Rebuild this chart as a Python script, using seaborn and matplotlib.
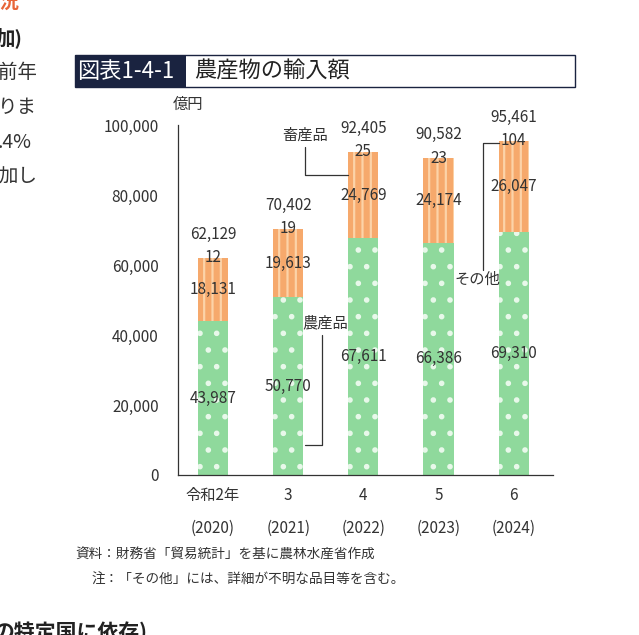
import matplotlib
matplotlib.use("Agg")
import matplotlib.pyplot as plt
import seaborn as sns
import pandas as pd
import numpy as np

sns.set_style("white")
plt.rcParams['font.family'] = ['Noto Sans CJK JP', 'DejaVu Sans']
plt.rcParams['hatch.linewidth'] = 1.6

years = ["令和2年\n(2020)", "3\n(2021)", "4\n(2022)", "5\n(2023)", "6\n(2024)"]
agri = [43987, 50770, 67611, 66386, 69310]
livestock = [18131, 19613, 24769, 24174, 26047]
other = [12, 19, 25, 23, 104]
total = [62129, 70402, 92405, 90582, 95461]

green = "#8fd99c"
orange = "#f6a96c"

fig = plt.figure(figsize=(6.39, 6.35), dpi=100)
ax = fig.add_axes([0.2786, 0.252, 0.5864, 0.551])

df = pd.DataFrame({"year": years, "agri": agri, "live": livestock, "other": other})
x = np.arange(len(years))
w = 0.4
ax.bar(x, df["agri"], w, color=green, edgecolor="#e8f8ea", hatch=".", linewidth=0)
ax.bar(x, df["live"], w, bottom=df["agri"], color=orange, edgecolor="#fcd3a8", hatch="||", linewidth=0)
ax.bar(x, df["other"], w, bottom=df["agri"] + df["live"], color="#fbe3a0", linewidth=0)
sns.despine(ax=ax)

fs = 11
for i in range(len(years)):
    ax.text(x[i], total[i] + 6700, f"{total[i]:,}", ha="center", va="center", fontsize=fs, color="#333")
    ax.text(x[i], total[i], f"{other[i]}", ha="center", va="center", fontsize=fs, color="#333")
    ax.text(x[i], agri[i] + livestock[i] / 2, f"{livestock[i]:,}", ha="center", va="center", fontsize=fs, color="#333")
    ax.text(x[i], agri[i] / 2, f"{agri[i]:,}", ha="center", va="center", fontsize=fs, color="#333")

ax.set_ylim(0, 100000)
ax.set_xlim(-0.465, 4.52)
ax.set_yticks(range(0, 100001, 20000))
ax.set_yticklabels([f"{v:,}" for v in range(0, 100001, 20000)], fontsize=fs, color="#333")
ax.tick_params(axis="y", direction="in", length=4, color="#333", pad=14)
ax.set_xticks(x)
ax.set_xticklabels(years, fontsize=fs, color="#333", linespacing=2.2)
ax.tick_params(axis="x", length=0, pad=9)
for s in ["left", "bottom"]:
    ax.spines[s].set_color("#333")
    ax.spines[s].set_linewidth(0.9)
ax.text(0.027, 1.06, "億円", transform=ax.transAxes, fontsize=fs, color="#333", ha="center", va="center")

lc = "#333"
ax.text(1.22, 97143, "畜産品", ha="center", va="center", fontsize=fs, color=lc)
ax.plot([1.22, 1.22, 1.79], [93700, 85714, 85714], color=lc, lw=0.9)
ax.text(3.52, 56000, "その他", ha="center", va="center", fontsize=fs, color=lc)
ax.plot([3.59, 3.59, 3.80], [58571, 94857, 94857], color=lc, lw=0.9)
ax.text(1.49, 43429, "農産品", ha="center", va="center", fontsize=fs, color=lc)
ax.plot([1.45, 1.45, 1.22], [40000, 8571, 8571], color=lc, lw=0.9)

H, W = 635, 639
def fx(px): return px / W
def fy(py): return 1 - py / H
fig.patches.append(plt.Rectangle((fx(75), fy(87)), fx(500), (87 - 55) / H, transform=fig.transFigure,
                                 facecolor="white", edgecolor="#1a2340", lw=1.0))
fig.patches.append(plt.Rectangle((fx(75), fy(87)), fx(111), (87 - 55) / H, transform=fig.transFigure,
                                 facecolor="#1a2340", edgecolor="none"))
fig.text(fx(77), fy(71), "図表1-4-1", color="white", fontsize=16, va="center")
fig.text(fx(194), fy(71), "農産物の輸入額", color="#222", fontsize=16, va="center")

fig.text(fx(75), fy(555), "資料：財務省「貿易統計」を基に農林水産省作成", fontsize=9.8, color="#333", va="center")
fig.text(fx(91), fy(580), "注：「その他」には、詳細が不明な品目等を含む。", fontsize=9.8, color="#333", va="center")

fig.text(fx(-20), fy(2), "状況", fontsize=14, color="#e8663a", weight="bold", va="center")
fig.text(fx(-4), fy(38), "加)", fontsize=14, color="#222", weight="bold", va="center")
for py, t in [(72, "前年"), (107, "りま"), (142, ".4%"), (177, "加し")]:
    fig.text(fx(-2), fy(py), t, fontsize=14, color="#333", va="center")
fig.text(fx(-6), fy(632), "の特定国に依存)", fontsize=15, color="#222", weight="bold", va="center")

fig.savefig("out.png", dpi=100)
